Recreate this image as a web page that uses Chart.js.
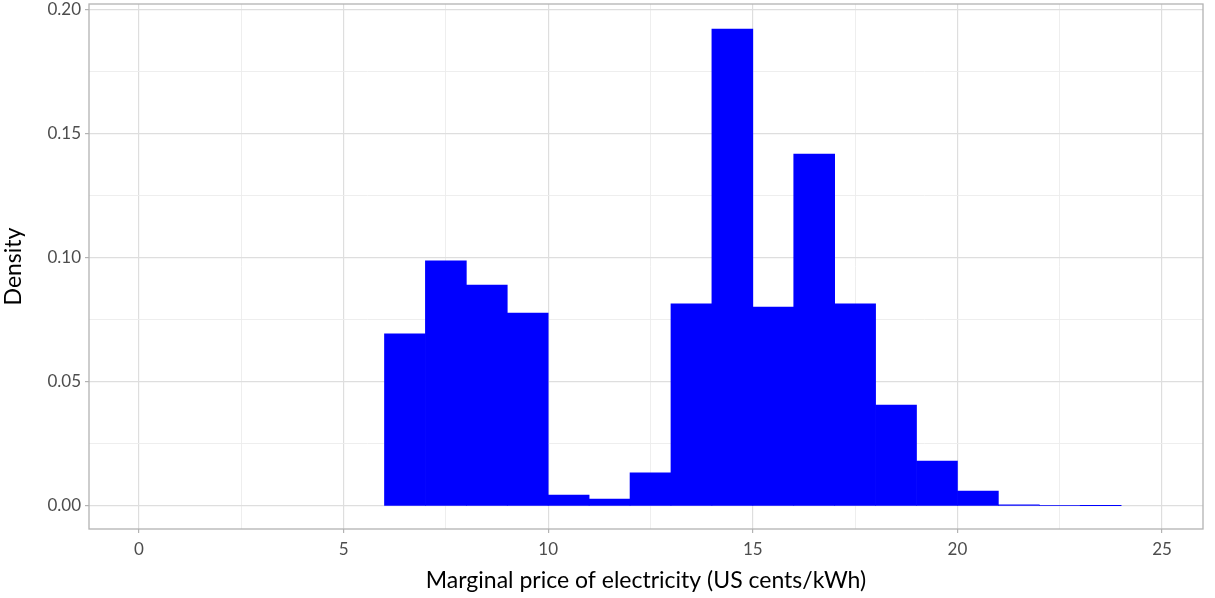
<!DOCTYPE html>
<html>
<head>
<meta charset="utf-8">
<script src="https://cdn.jsdelivr.net/npm/chart.js@4.4.0/dist/chart.umd.min.js"></script>
<style>
  html, body { margin: 0; padding: 0; background: #fff; }
  #wrap { width: 1215px; height: 598px; }
</style>
</head>
<body>
<div id="wrap"><canvas id="myChart"></canvas></div>
<script>
// Histogram bins (width 1, centres) and densities
const binCentres = [6.5, 7.5, 8.5, 9.5, 10.5, 11.5, 12.5, 13.5, 14.5, 15.5, 16.5, 17.5, 18.5, 19.5, 20.5, 21.5, 22.5, 23.5];
const densities = [0.0694, 0.0988, 0.0891, 0.0778, 0.0044, 0.0028, 0.0133, 0.0815, 0.1923, 0.0802, 0.1419, 0.0815, 0.0407, 0.0181, 0.0060, 0.0004, 0.0002, 0.0001];
const xLabels = [0, 5, 10, 15, 20, 25];
const yLabels = [0, 0.05, 0.10, 0.15, 0.20];

const canvas = document.getElementById('myChart');

// Borde del panel
const panelBorder = {
  id: 'panelBorder',
  afterDraw(chart) {
    const { ctx, chartArea: a } = chart;
    ctx.save();
    ctx.strokeStyle = '#b3b3b3';
    ctx.lineWidth = 1.3;
    ctx.strokeRect(a.left, a.top, a.right - a.left, a.bottom - a.top);
    ctx.restore();
  }
};

const isMajor = (v, step) => Math.abs(v / step - Math.round(v / step)) < 1e-6;
const tickVal = c => (c && c.tick) ? c.tick.value : 0;

new Chart(canvas, {
  type: 'bar',
  data: {
    datasets: [{
      data: binCentres.map((x, i) => ({ x: x, y: densities[i] })),
      backgroundColor: '#0000ff',
      borderWidth: 0,
      barPercentage: 1,
      categoryPercentage: 1
    }]
  },
  options: {
    responsive: true,
    maintainAspectRatio: false,
    animation: false,
    layout: { padding: { top: 4, right: 12, left: 0, bottom: 0 } },
    plugins: { legend: { display: false }, tooltip: { enabled: false } },
    scales: {
      x: {
        type: 'linear',
        offset: false,
        min: -1.22, max: 26.0,
        afterBuildTicks: s => { s.ticks = []; for (let v = 0; v <= 25; v += 2.5) s.ticks.push({ value: v }); },
        afterFit: s => { s.height = 69; s.paddingLeft = 0; s.paddingRight = 0; },
        ticks: {
          color: '#4d4d4d', font: { family: 'Lato', size: 17 }, padding: 6,
          callback: v => xLabels.includes(v) ? String(v) : ''
        },
        grid: {
          offset: false,
          color: c => isMajor(tickVal(c), 5) ? '#dedede' : '#ececec',
          lineWidth: c => isMajor(tickVal(c), 5) ? 1.2 : 0.9,
          tickLength: 4, tickColor: c => isMajor(tickVal(c), 5) ? '#b3b3b3' : 'rgba(0,0,0,0)'
        },
        border: { display: false },
        title: { display: true, text: 'Marginal price of electricity (US cents/kWh)', color: '#000', font: { family: 'Lato', size: 23 }, padding: { top: 0 } }
      },
      y: {
        min: -0.0093, max: 0.2024,
        afterBuildTicks: s => { s.ticks = []; for (let k = 0; k <= 8; k++) s.ticks.push({ value: k * 0.025 }); },
        afterFit: s => { s.width = 89; s.paddingTop = 0; s.paddingBottom = 0; },
        ticks: {
          color: '#4d4d4d', font: { family: 'Lato', size: 17 }, padding: 4,
          callback: v => isMajor(v, 0.05) ? v.toFixed(2) : ''
        },
        grid: {
          color: c => isMajor(tickVal(c), 0.05) ? '#dedede' : '#ececec',
          lineWidth: c => isMajor(tickVal(c), 0.05) ? 1.2 : 0.9,
          tickLength: 4, tickColor: c => isMajor(tickVal(c), 0.05) ? '#b3b3b3' : 'rgba(0,0,0,0)'
        },
        border: { display: false },
        title: { display: true, text: 'Density', color: '#000', font: { family: 'Lato', size: 23 }, padding: { top: 0, bottom: 6 } }
      }
    }
  },
  plugins: [panelBorder]
});
</script>
</body>
</html>
